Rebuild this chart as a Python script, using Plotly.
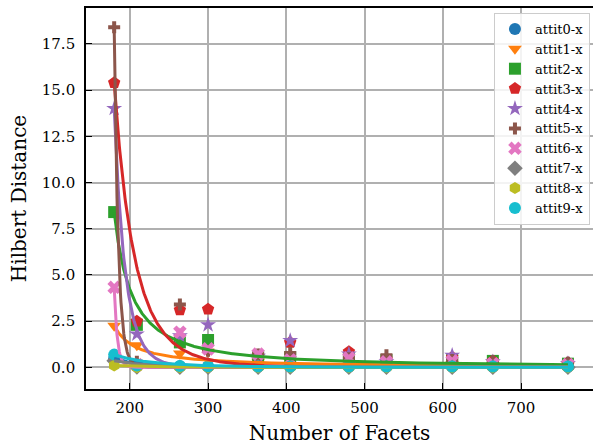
import numpy as np
import plotly.graph_objects as go

# Number of facets at which each attitude was evaluated
facets = [180, 209, 264, 300, 364, 405, 480, 528, 612, 664, 760]

# Hilbert distance per attitude
attit0 = [0.48, 0.08, 0.06, 0.05, 0.04, 0.04, 0.03, 0.03, 0.03, 0.03, 0.03]
attit1 = [2.25, 1.20, 0.75, 0.85, 0.30, 0.30, 0.20, 0.18, 0.15, 0.12, 0.10]
attit2 = [8.40, 2.30, 1.35, 1.48, 0.60, 0.55, 0.45, 0.40, 0.45, 0.35, 0.20]
attit3 = [15.40, 2.50, 3.10, 3.15, 0.65, 1.35, 0.85, 0.45, 0.55, 0.35, 0.25]
attit4 = [14.00, 1.80, 1.70, 2.30, 0.60, 1.45, 0.72, 0.30, 0.65, 0.30, 0.20]
attit5 = [18.40, 0.30, 3.40, 0.90, 0.70, 0.78, 0.50, 0.65, 0.40, 0.35, 0.25]
attit6 = [4.33, 0.15, 1.90, 1.00, 0.72, 0.40, 0.50, 0.30, 0.35, 0.20, 0.15]
attit7 = [0.36, 0.02, 0.01, 0.01, 0.01, 0.01, 0.01, 0.01, 0.01, 0.01, 0.01]
attit8 = [0.10, 0.01, 0.00, 0.00, 0.00, 0.00, 0.00, 0.00, 0.00, 0.00, 0.00]
attit9 = [0.69, 0.10, 0.08, 0.06, 0.05, 0.05, 0.05, 0.05, 0.05, 0.05, 0.05]

series_names = ["attit0-x", "attit1-x", "attit2-x", "attit3-x", "attit4-x",
                "attit5-x", "attit6-x", "attit7-x", "attit8-x", "attit9-x"]
series_values = [attit0, attit1, attit2, attit3, attit4,
                 attit5, attit6, attit7, attit8, attit9]

# Decay-curve parameters per attitude:
#   d(n) = d_first * ((n - shift) / (n_first - shift)) ** (-power)
curve_shift = [0.0, 150.0, 150.0, 0.0, 0.0, 0.0, 0.0, 0.0, 0.0, 0.0]
curve_power = [5.0, 1.1, 1.35, 7.0, 13.0, 35.0, 45.0, 4.4, 3.0, 3.9]

colors = ["#1f77b4", "#ff7f0e", "#2ca02c", "#d62728", "#9467bd",
          "#8c564b", "#e377c2", "#7f7f7f", "#bcbd22", "#17becf"]
symbols = ["circle", "triangle-down", "square", "pentagon", "star",
           "cross", "x", "diamond", "hexagon", "circle"]
sizes = [12, 12, 12, 13, 12, 10, 12, 12, 12, 12]

y_ticks = [0.0, 2.5, 5.0, 7.5, 10.0, 12.5, 15.0, 17.5]
x_ticks = [200, 300, 400, 500, 600, 700]

FONT = "DejaVu Serif"

fig = go.Figure()

# markers first, decay curves drawn over them
for name, vals, col, sym, sz in zip(series_names, series_values, colors, symbols, sizes):
    fig.add_trace(go.Scatter(
        x=facets, y=vals, mode="markers", name=name,
        marker=dict(symbol=sym, color=col, size=sz, line=dict(width=0)),
    ))

n = np.linspace(min(facets), max(facets), 800)
for vals, col, shift, power in zip(series_values, colors, curve_shift, curve_power):
    d = vals[0] * ((n - shift) / (facets[0] - shift)) ** (-power)
    fig.add_trace(go.Scatter(
        x=n, y=d, mode="lines", showlegend=False,
        line=dict(color=col, width=3), hoverinfo="skip",
    ))

axis_common = dict(
    showgrid=True, gridcolor="#b0b0b0", gridwidth=1.5,
    showline=True, linecolor="black", linewidth=1.6,
    ticks="inside", ticklen=6, tickwidth=1.4, tickcolor="black",
    tickfont=dict(family=FONT, size=15, color="black"),
    zeroline=False,
)

fig.update_layout(
    width=593, height=446,
    margin=dict(l=86, r=0, t=8, b=57),
    paper_bgcolor="white", plot_bgcolor="white",
    font=dict(family=FONT, color="black"),
    xaxis=dict(
        range=[144, 792], tickvals=x_ticks, mirror=True,
        ticklabelstandoff=4,
        title=dict(text="Number of Facets", font=dict(family=FONT, size=20), standoff=10),
        **axis_common,
    ),
    yaxis=dict(
        range=[-1.17, 19.44], tickvals=y_ticks, tickformat=".1f",
        ticklabelstandoff=6,
        title=dict(text="Hilbert Distance", font=dict(family=FONT, size=20), standoff=10),
        **axis_common,
    ),
    legend=dict(
        x=0.994, y=0.987, xanchor="right", yanchor="top",
        bgcolor="rgba(255,255,255,0.85)", bordercolor="#cccccc", borderwidth=1,
        font=dict(family=FONT, size=13, color="black"),
        tracegroupgap=0,
    ),
    showlegend=True,
)

fig.write_html("out.html")
